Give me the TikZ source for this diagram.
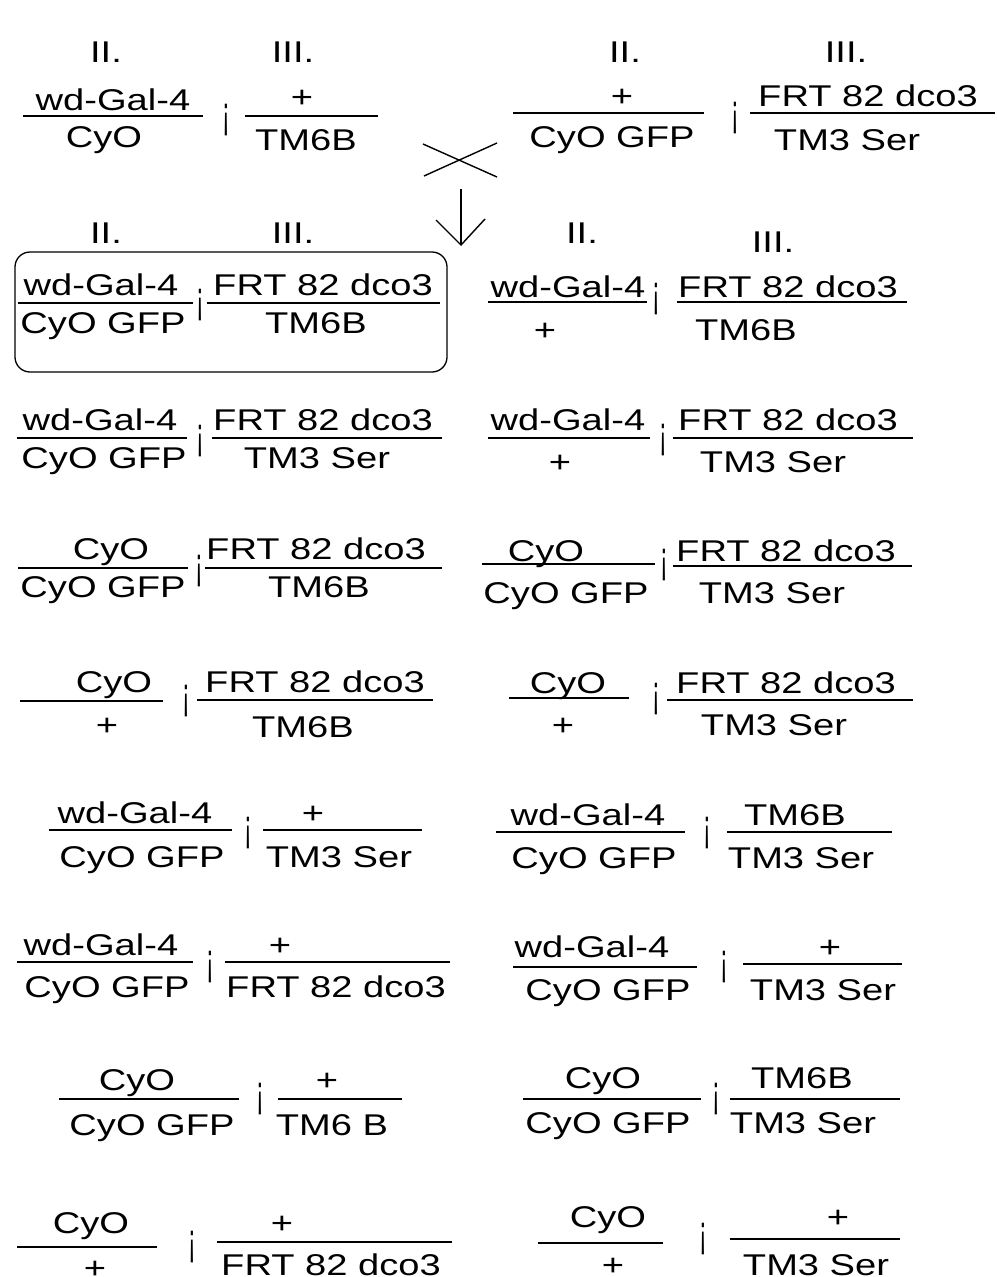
\documentclass[tikz,border=0pt]{standalone}
\usepackage{fontspec}
\setmainfont{Liberation Sans}[FakeStretch=1.27]
\newfontfamily\sepfont{Liberation Sans}[FakeStretch=0.5]
\begin{document}
\begin{tikzpicture}[x=1pt,y=-1pt,
  gtxt/.style={anchor=base,inner sep=0pt,font=\fontsize{30}{36}\selectfont},
  sepmark/.style={anchor=center,inner sep=0pt,font=\sepfont\fontsize{46}{50}\selectfont},
  fbar/.style={line width=2pt},
  thinline/.style={line width=1.4pt}]
\fill[white] (0,0) rectangle (996,1277);
\useasboundingbox (0,0) rectangle (996,1277);

% text label: name, x, baseline y, text
\newcommand\gt[4]{\node[gtxt] (#1) at (#2,#3) {#4};}
% fraction bar: name, x from, x to, y
\newcommand\gbar[4]{\draw[fbar] (#2,#4) coordinate (#1l) -- (#3,#4) coordinate (#1r);}
% chromosome separator: name, x, y
\newcommand\gsep[3]{\node[sepmark] (#1) at (#2,#3) {¡};}

% parental cross: chromosome headings
\gt{hA}{106}{62}{II.}
\gt{hB}{293}{62}{III.}
\gt{hC}{625}{62}{II.}
\gt{hD}{846}{62}{III.}

% parent 1
\gbar{pa}{23}{203}{116}
\gt{pat}{113}{110}{wd-Gal-4}
\gt{pab}{104}{147}{CyO}
\gsep{ps1}{226}{120}
\gbar{pb}{245}{378}{116}
\gt{pbt}{302}{107}{+}
\gt{pbb}{306}{150}{TM6B}

% parent 2
\gbar{pc}{513}{704}{113}
\gt{pct}{622}{106}{+}
\gt{pcb}{612}{147}{CyO GFP}
\gsep{ps2}{735}{118}
\gbar{pd}{750}{995}{113}
\gt{pdt}{868}{106}{FRT 82 dco3}
\gt{pdb}{847}{150}{TM3 Ser}

% cross sign and arrow to the progeny
\coordinate (x1) at (423,144);
\coordinate (x2) at (497,177);
\coordinate (x3) at (424,176);
\coordinate (x4) at (497,143);
\draw[thinline] (x1) -- (x2);
\draw[thinline] (x3) -- (x4);
\coordinate (arS) at (461,189);
\coordinate (arE) at (461,245);
\coordinate (arL) at (436,220);
\coordinate (arR) at (485,219);
\draw[thinline] (arS) -- (arE);
\draw[thinline] (arL) -- (arE) -- (arR);

% progeny headings
\gt{hE}{106}{243}{II.}
\gt{hF}{293}{243}{III.}
\gt{hG}{582}{243}{II.}
\gt{hH}{773}{252}{III.}

% selected genotype
\draw[line width=1.3pt,rounded corners=15pt] (15,252) rectangle (447,372);
\gbar{r2a}{18}{193}{303}
\gt{r2at}{101}{295}{wd-Gal-4}
\gt{r2ab}{103}{333}{CyO GFP}
\gsep{r2s}{200}{305}
\gbar{r2b}{207}{440}{303}
\gt{r2bt}{323}{295}{FRT 82 dco3}
\gt{r2bb}{316}{333}{TM6B}

\gbar{r2c}{488}{647}{302}
\gt{r2ct}{568}{297}{wd-Gal-4}
\gt{r2cb}{545}{340}{+}
\gsep{r2t}{656}{299}
\gbar{r2d}{677}{907}{302}
\gt{r2dt}{788}{297}{FRT 82 dco3}
\gt{r2db}{746}{340}{TM6B}

% row 3
\gbar{r3a}{17}{187}{438}
\gt{r3at}{100}{430}{wd-Gal-4}
\gt{r3ab}{104}{468}{CyO GFP}
\gsep{r3s}{200}{441}
\gbar{r3b}{212}{442}{438}
\gt{r3bt}{323}{430}{FRT 82 dco3}
\gt{r3bb}{317}{468}{TM3 Ser}

\gbar{r3c}{488}{650}{438}
\gt{r3ct}{568}{430}{wd-Gal-4}
\gt{r3cb}{560}{472}{+}
\gsep{r3t}{663}{440}
\gbar{r3d}{673}{913}{438}
\gt{r3dt}{788}{430}{FRT 82 dco3}
\gt{r3db}{773}{472}{TM3 Ser}

% row 4
\gbar{r4a}{18}{188}{568}
\gt{r4at}{111}{559}{CyO}
\gt{r4ab}{103}{597}{CyO GFP}
\gsep{r4s}{199}{571}
\gbar{r4b}{205}{442}{568}
\gt{r4bt}{316}{559}{FRT 82 dco3}
\gt{r4bb}{319}{597}{TM6B}

\gbar{r4c}{482}{655}{564}
\gt{r4ct}{546}{561}{CyO}
\gt{r4cb}{566}{603}{CyO GFP}
\gsep{r4t}{664}{565}
\gbar{r4d}{673}{912}{566}
\gt{r4dt}{786}{561}{FRT 82 dco3}
\gt{r4db}{772}{603}{TM3 Ser}

% row 5
\gbar{r5a}{20}{163}{701}
\gt{r5at}{114}{692}{CyO}
\gt{r5ab}{107}{735}{+}
\gsep{r5s}{186}{701}
\gbar{r5b}{197}{433}{700}
\gt{r5bt}{315}{692}{FRT 82 dco3}
\gt{r5bb}{303}{737}{TM6B}

\gbar{r5c}{509}{629}{698}
\gt{r5ct}{568}{693}{CyO}
\gt{r5cb}{563}{735}{+}
\gsep{r5t}{656}{699}
\gbar{r5d}{667}{913}{700}
\gt{r5dt}{786}{693}{FRT 82 dco3}
\gt{r5db}{774}{735}{TM3 Ser}

% row 6
\gbar{r6a}{49}{232}{830}
\gt{r6at}{135}{823}{wd-Gal-4}
\gt{r6ab}{142}{867}{CyO GFP}
\gsep{r6s}{248}{833}
\gbar{r6b}{263}{422}{830}
\gt{r6bt}{313}{823}{+}
\gt{r6bb}{339}{867}{TM3 Ser}

\gbar{r6c}{496}{685}{832}
\gt{r6ct}{588}{825}{wd-Gal-4}
\gt{r6cb}{594}{868}{CyO GFP}
\gsep{r6t}{707}{833}
\gbar{r6d}{727}{892}{832}
\gt{r6dt}{795}{825}{TM6B}
\gt{r6db}{801}{868}{TM3 Ser}

% row 7
\gbar{r7a}{17}{193}{962}
\gt{r7at}{101}{955}{wd-Gal-4}
\gt{r7ab}{107}{997}{CyO GFP}
\gsep{r7s}{210}{967}
\gbar{r7b}{225}{450}{962}
\gt{r7bt}{280}{955}{+}
\gt{r7bb}{336}{997}{FRT 82 dco3}

\gbar{r7c}{513}{697}{967}
\gt{r7ct}{592}{957}{wd-Gal-4}
\gt{r7cb}{608}{1000}{CyO GFP}
\gsep{r7t}{724}{967}
\gbar{r7d}{743}{902}{964}
\gt{r7dt}{830}{957}{+}
\gt{r7db}{823}{1000}{TM3 Ser}

% row 8
\gbar{r8a}{59}{239}{1099}
\gt{r8at}{137}{1090}{CyO}
\gt{r8ab}{152}{1135}{CyO GFP}
\gsep{r8s}{260}{1099}
\gbar{r8b}{278}{402}{1099}
\gt{r8bt}{327}{1090}{+}
\gt{r8bb}{332}{1135}{TM6 B}

\gbar{r8c}{523}{701}{1099}
\gt{r8ct}{603}{1088}{CyO}
\gt{r8cb}{608}{1133}{CyO GFP}
\gsep{r8t}{716}{1099}
\gbar{r8d}{730}{900}{1099}
\gt{r8dt}{802}{1088}{TM6B}
\gt{r8db}{803}{1133}{TM3 Ser}

% row 9
\gbar{r9a}{17}{157}{1247}
\gt{r9at}{91}{1233}{CyO}
\gt{r9ab}{95}{1278}{+}
\gsep{r9s}{192}{1247}
\gbar{r9b}{217}{452}{1242}
\gt{r9bt}{282}{1233}{+}
\gt{r9bb}{331}{1275}{FRT 82 dco3}

\gbar{r9c}{538}{663}{1243}
\gt{r9ct}{608}{1227}{CyO}
\gt{r9cb}{613}{1275}{+}
\gsep{r9t}{703}{1239}
\gbar{r9d}{730}{900}{1239}
\gt{r9dt}{838}{1227}{+}
\gt{r9db}{816}{1275}{TM3 Ser}
\end{tikzpicture}
\end{document}
